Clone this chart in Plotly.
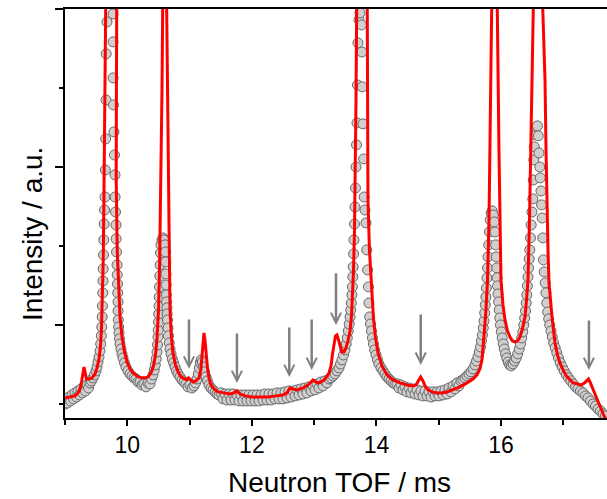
import plotly.graph_objects as go

# Measured neutron time-of-flight spectrum (ms, counts)
tof_obs = [
    9.000, 9.016, 9.040, 9.064, 9.088, 9.112, 9.136, 9.160, 9.185, 9.209, 9.233, 9.257, 9.281, 9.305,
    9.329, 9.353, 9.377, 9.401, 9.425, 9.449, 9.474, 9.498, 9.514, 9.530, 9.546, 9.562, 9.573, 9.583,
    9.590, 9.597, 9.601, 9.606, 9.610, 9.613, 9.618, 9.622, 9.629, 9.635, 9.642, 9.648, 9.653, 9.658,
    9.661, 9.674,
    9.770, 9.771, 9.772, 9.778, 9.786, 9.794, 9.803, 9.804, 9.811, 9.819, 9.820, 9.827, 9.835, 9.838,
    9.843, 9.846, 9.851, 9.852, 9.856, 9.861, 9.867, 9.875, 9.883, 9.899, 9.915, 9.931, 9.955, 9.979,
    10.011, 10.043, 10.075, 10.108, 10.140, 10.172, 10.204, 10.236, 10.268, 10.300, 10.332, 10.364,
    10.388, 10.412, 10.433, 10.449, 10.464, 10.477, 10.485, 10.493, 10.496, 10.501, 10.504, 10.509,
    10.512, 10.517, 10.522, 10.527, 10.533, 10.541, 10.557, 10.573, 10.589, 10.605, 10.613, 10.618,
    10.621, 10.624, 10.628, 10.632, 10.637, 10.640, 10.645, 10.653, 10.661, 10.673, 10.685, 10.701,
    10.722, 10.743, 10.766, 10.790, 10.814, 10.846, 10.878, 10.910, 10.942, 10.974, 11.006, 11.039,
    11.071, 11.095, 11.119, 11.140, 11.156, 11.172, 11.188, 11.204, 11.220, 11.239, 11.263, 11.287,
    11.311, 11.343, 11.375, 11.408, 11.440, 11.472, 11.504, 11.536, 11.568, 11.600, 11.632, 11.665,
    11.697, 11.729, 11.761, 11.793, 11.825, 11.857, 11.889, 11.921, 11.953, 11.986, 12.018, 12.050,
    12.082, 12.114, 12.146, 12.178, 12.210, 12.242, 12.274, 12.307, 12.339, 12.371, 12.403, 12.435,
    12.467, 12.499, 12.531, 12.563, 12.595, 12.628, 12.660, 12.692, 12.724, 12.756, 12.788, 12.820,
    12.852, 12.884, 12.917, 12.949, 12.981, 13.013, 13.045, 13.077, 13.109, 13.141, 13.173, 13.205,
    13.238, 13.270, 13.302, 13.334, 13.366, 13.398, 13.422, 13.446, 13.470, 13.494, 13.514, 13.531,
    13.547, 13.562, 13.575, 13.586, 13.596, 13.605, 13.613, 13.620, 13.626, 13.633, 13.639, 13.647,
    13.655, 13.663, 13.671, 13.679, 13.687, 13.695, 13.703, 13.719, 13.735,
    13.759, 13.767, 13.772, 13.783, 13.794, 13.802, 13.815, 13.831, 13.844, 13.857, 13.871, 13.879,
    13.891, 13.903, 13.919, 13.935, 13.951, 13.971, 13.992, 14.016, 14.040, 14.072, 14.104, 14.136,
    14.168, 14.201, 14.233, 14.265, 14.297, 14.329, 14.361, 14.393, 14.425, 14.457, 14.489, 14.522,
    14.554, 14.586, 14.618, 14.650, 14.682, 14.714, 14.746, 14.778, 14.811, 14.843, 14.875, 14.907,
    14.939, 14.971, 15.003, 15.035, 15.067, 15.099, 15.132, 15.164, 15.196, 15.228, 15.260, 15.292,
    15.324, 15.356, 15.388, 15.421, 15.453, 15.485, 15.517, 15.549, 15.581, 15.605, 15.629, 15.650,
    15.669, 15.685, 15.701, 15.714, 15.726, 15.737, 15.746, 15.756, 15.764, 15.774, 15.782, 15.790,
    15.801, 15.814, 15.827, 15.841, 15.857, 15.873, 15.889, 15.902, 15.913, 15.923, 15.931, 15.937,
    15.944, 15.950, 15.960, 15.970, 15.979, 15.990, 16.003, 16.018, 16.034, 16.051, 16.071, 16.091,
    16.114, 16.138, 16.164, 16.191, 16.217, 16.242, 16.266, 16.291, 16.311, 16.331, 16.348, 16.364,
    16.379, 16.392, 16.403, 16.413, 16.422, 16.432, 16.441, 16.451, 16.461, 16.472, 16.483, 16.496,
    16.509, 16.517, 16.525, 16.533, 16.549, 16.568, 16.584, 16.597, 16.608, 16.621, 16.629, 16.640,
    16.650, 16.660, 16.669, 16.680, 16.693, 16.708, 16.720, 16.733, 16.748, 16.764, 16.781, 16.801,
    16.822, 16.844, 16.868, 16.894, 16.921, 16.950, 16.981, 17.013, 17.047, 17.082, 17.119, 17.157,
    17.196, 17.234, 17.274, 17.315, 17.355, 17.395, 17.435, 17.475, 17.515, 17.555, 17.596, 17.636,
    17.676,
]
counts_obs = [
    500, 532, 506, 544, 519, 557, 532, 570, 544, 582, 557, 595, 570, 601,
    582, 620, 601, 633, 646, 665, 684, 709, 734, 766, 798, 836, 880, 931,
    987, 1051, 1120, 1203, 1279, 1355, 1443, 1538, 1639, 1728, 1810, 1981, 2178, 2424,
    2716, 2918,
    2969, 2792, 2564, 2393, 2222, 2076, 1950, 1810, 1715, 1633, 1545, 1462, 1380, 1317,
    1260, 1203, 1146, 1089, 1032, 987, 950, 912, 880, 848, 817, 791, 760, 734,
    709, 690, 677, 665, 658, 639, 639, 620, 627, 608, 633, 627,
    658, 684, 715, 747, 785, 829, 874, 924, 968, 1019, 1070, 1120,
    1177, 1241, 1310, 1380, 1456, 1507, 1538, 1551, 1538, 1507, 1462, 1399,
    1323, 1253, 1190, 1146, 1108, 1070, 1032, 981, 931, 886, 848, 817,
    785, 760, 734, 709, 690, 671, 652, 639, 627, 608, 620, 601,
    614, 633, 658, 690, 728, 760, 779, 766, 734, 703, 671, 646,
    620, 601, 589, 576, 563, 557, 570, 532, 563, 525, 563, 525,
    563, 525, 557, 519, 557, 519, 557, 519, 557, 519, 557, 519,
    557, 519, 557, 525, 563, 525, 563, 525, 563, 532, 570, 532,
    570, 532, 576, 538, 582, 544, 582, 551, 589, 557, 595, 563,
    601, 570, 608, 582, 614, 589, 627, 601, 639, 614, 646, 633,
    658, 665, 677, 690, 709, 728, 753, 779, 810, 842, 880, 918,
    962, 1006, 1051, 1095, 1139, 1190, 1241, 1304, 1367, 1450, 1538, 1639,
    1747, 1867, 2000, 2140, 2279, 2519, 2785, 2931, 2975,
    2899, 2728, 2507, 2273, 2051, 1810, 1728, 1646, 1475, 1348, 1241, 1139,
    1051, 1006, 962, 918, 880, 842, 810, 779, 753, 728, 709, 690,
    671, 658, 646, 633, 627, 627, 601, 620, 589, 608, 576, 601,
    570, 595, 563, 589, 557, 582, 551, 582, 551, 576, 544, 576,
    551, 576, 551, 582, 557, 589, 563, 601, 576, 614, 595, 633,
    614, 646, 652, 665, 677, 690, 703, 722, 747, 772, 798, 829,
    861, 899, 937, 981, 1025, 1076, 1127, 1177, 1234, 1298, 1361, 1431,
    1507, 1589, 1665, 1709, 1722, 1696, 1652, 1589, 1507, 1431, 1361, 1298,
    1247, 1196, 1146, 1095, 1044, 1000, 956, 918, 880, 848, 817, 791,
    766, 747, 741, 753, 772, 791, 817, 848, 880, 918, 956, 1000,
    1044, 1089, 1139, 1190, 1247, 1304, 1361, 1418, 1475, 1551, 1633, 1715,
    1798, 1918, 2045, 2127, 2203, 2254, 2260, 2197, 2089, 2000, 1931, 1848,
    1760, 1677, 1551, 1412, 1336, 1266, 1203, 1139, 1082, 1038, 1000, 962,
    924, 886, 855, 823, 791, 760, 734, 709, 684, 665, 646, 627,
    608, 595, 582, 570, 551, 538, 519, 500, 487, 468, 456, 437,
    424,
]

# Calculated (fitted) profile
tof_fit = [
    9.000, 9.080, 9.161, 9.209, 9.241, 9.265, 9.289, 9.305, 9.321, 9.345, 9.385, 9.433, 9.482, 9.514,
    9.546, 9.570, 9.586, 9.602, 9.615, 9.626, 9.637, 9.653, 9.743, 9.830, 9.825, 9.822, 9.838, 9.859,
    9.883, 9.915, 9.955, 9.995, 10.043, 10.091, 10.156, 10.220, 10.284, 10.332, 10.380, 10.421, 10.453,
    10.477, 10.501, 10.517, 10.530, 10.541, 10.557, 10.568, 10.600, 10.632, 10.645, 10.656, 10.669,
    10.685, 10.709, 10.733, 10.773, 10.814, 10.862, 10.910, 10.950, 10.982, 11.014, 11.055, 11.103,
    11.151, 11.180, 11.199, 11.215, 11.231, 11.247, 11.263, 11.287, 11.311, 11.343, 11.391, 11.456,
    11.552, 11.649, 11.713, 11.761, 11.809, 11.889, 12.002, 12.130, 12.258, 12.387, 12.499, 12.563,
    12.611, 12.660, 12.724, 12.820, 12.900, 12.949, 12.981, 13.021, 13.077, 13.141, 13.189, 13.238,
    13.270, 13.294, 13.318, 13.342, 13.366, 13.390, 13.414, 13.446, 13.478, 13.510, 13.542, 13.575,
    13.599, 13.615, 13.631, 13.647, 13.659, 13.671, 13.682, 13.767, 13.852, 13.857, 13.863, 13.887,
    13.919, 13.951, 13.984, 14.024, 14.088, 14.168, 14.265, 14.377, 14.489, 14.586, 14.634, 14.674,
    14.709, 14.746, 14.786, 14.827, 14.891, 14.971, 15.051, 15.132, 15.228, 15.340, 15.453, 15.549,
    15.613, 15.661, 15.693, 15.714, 15.733, 15.757, 15.782, 15.806, 15.822, 15.849, 15.894, 15.939,
    15.966, 15.982, 15.998, 16.030, 16.063, 16.103, 16.143, 16.183, 16.223, 16.263, 16.303, 16.343,
    16.384, 16.408, 16.432, 16.456, 16.480, 16.517, 16.597, 16.677, 16.705, 16.721, 16.737, 16.753,
    16.769, 16.793, 16.817, 16.865, 16.905, 16.945, 17.002, 17.058, 17.106, 17.154, 17.219, 17.283,
    17.339, 17.379, 17.403, 17.427, 17.459, 17.507, 17.555, 17.604, 17.652, 17.700,
]
counts_fit = [
    538, 544, 551, 570, 595, 639, 715, 734, 703, 658, 658, 665, 690, 728,
    785, 867, 981, 1177, 1443, 1855, 2424, 3000, 3900, 3000, 2424, 1918, 1475, 1222,
    1051, 924, 829, 766, 722, 696, 677, 665, 665, 671, 696, 741, 810,
    918, 1095, 1348, 1665, 1981, 2488, 3000, 3900, 3000, 2424, 1918, 1412,
    1095, 918, 823, 747, 703, 671, 658, 652, 665, 652, 639, 646,
    665, 715, 804, 893, 950, 905, 810, 728, 665, 620, 595, 576,
    570, 563, 570, 582, 563, 551, 544, 544, 544, 551, 557, 570,
    601, 595, 589, 601, 620, 639, 652, 639, 633, 646, 665, 696,
    741, 817, 893, 931, 937, 905, 861, 829, 829, 855, 899, 962,
    1057, 1171, 1348, 1601, 1918, 2424, 3000, 3900, 3000, 2424, 1791, 1475,
    1253, 1044, 918, 823, 741, 684, 652, 633, 620, 614, 620, 646,
    671, 646, 608, 589, 576, 570, 570, 576, 589, 608, 633, 658,
    684, 722, 779, 855, 968, 1095, 1285, 1665, 2108, 3000, 3900, 3000,
    2108, 1601, 1285, 1127, 1032, 962, 924, 899, 893, 899, 924, 975,
    1051, 1158, 1285, 1665, 2108, 3000, 3900, 3000, 2551, 2108, 1684, 1475,
    1266, 1139, 1051, 886, 810, 760, 709, 671, 652, 633, 627, 620,
    633, 652, 658, 639, 608, 557, 506, 462, 424, 392,
]

# Positions of weak reflections (arrow tail -> tip)
arrow_tof = [10.99, 11.76, 12.60, 12.96, 13.35, 14.71, 17.41]
arrow_top = [1044, 956, 994, 1044, 1336, 1076, 1038]
arrow_tip = [722, 633, 671, 715, 1000, 747, 715]

FONT = "Liberation Sans, Arial, sans-serif"

fig = go.Figure()
fig.add_trace(go.Scatter(
    x=tof_obs, y=counts_obs, mode="markers",
    marker=dict(size=10, color="#cfcfcf", line=dict(color="#686868", width=1)),
    showlegend=False,
))
fig.add_trace(go.Scatter(
    x=tof_fit, y=counts_fit, mode="lines",
    line=dict(color="#ff0000", width=3),
    showlegend=False,
))

for xa, y0, y1 in zip(arrow_tof, arrow_top, arrow_tip):
    fig.add_annotation(
        x=xa, y=y1, ax=xa, ay=y0, xref="x", yref="y", axref="x", ayref="y",
        text="", showarrow=True, arrowhead=5, arrowsize=0.8, arrowwidth=2.5,
        arrowcolor="#808080", standoff=0,
    )

# Axis titles
fig.add_annotation(
    text="Neutron TOF / ms", x=0.507, y=-0.158, xref="paper", yref="paper",
    showarrow=False, font=dict(family=FONT, size=28, color="black"),
    xanchor="center", yanchor="middle",
)
fig.add_annotation(
    text="Intensity / a.u.", x=-0.059, y=0.45, xref="paper", yref="paper",
    showarrow=False, textangle=-90, font=dict(family=FONT, size=28, color="black"),
    xanchor="center", yanchor="middle",
)

fig.update_layout(
    width=607, height=499,
    margin=dict(l=65, r=0, t=9, b=81),
    paper_bgcolor="white", plot_bgcolor="white",
    font=dict(family=FONT, color="black"),
    xaxis=dict(
        range=[9, 17.7], showgrid=False, zeroline=False,
        showline=True, linecolor="black", linewidth=1.5, mirror=True,
        ticks="outside", ticklen=6, tickwidth=1.5, tickcolor="black",
        tick0=10, dtick=2, tickfont=dict(family=FONT, size=23, color="black"),
        minor=dict(ticks="outside", ticklen=5, tickwidth=1.5, tickcolor="black",
                   tick0=9, dtick=1),
    ),
    yaxis=dict(
        range=[411, 3000], showgrid=False, zeroline=False,
        showline=True, linecolor="black", linewidth=1.5,
        ticks="outside", ticklen=8, tickwidth=1.5, tickcolor="black",
        tick0=0, dtick=1000, showticklabels=False,
        minor=dict(ticks="outside", ticklen=4, tickwidth=1.5, tickcolor="black",
                   tick0=500, dtick=500),
    ),
)

fig.write_html("out.html")
